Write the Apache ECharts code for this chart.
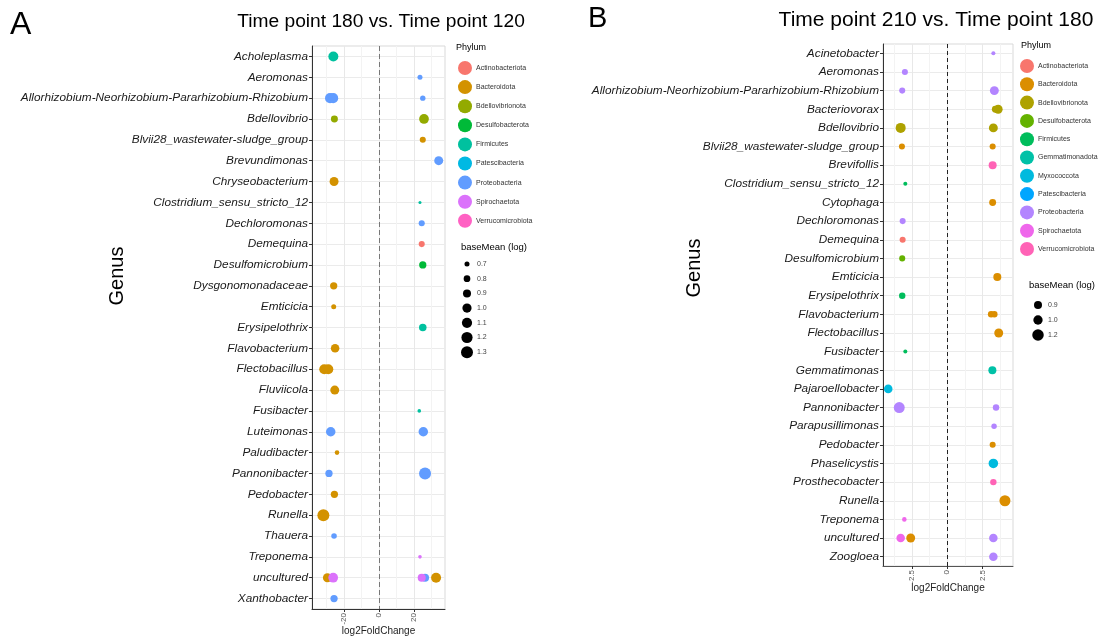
<!DOCTYPE html>
<html>
<head>
<meta charset="utf-8">
<script src="https://cdn.jsdelivr.net/npm/echarts@6/dist/echarts.min.js"></script>
<style>
  html, body { margin: 0; padding: 0; background: #fff; }
  #chart { width: 1110px; height: 637px; }
</style>
</head>
<body>
<div id="chart"></div>
<script>
// ---------- Panel A: Time point 180 vs. Time point 120 ----------
const genusA = [
  "Acholeplasma", "Aeromonas", "Allorhizobium-Neorhizobium-Pararhizobium-Rhizobium",
  "Bdellovibrio", "Blvii28_wastewater-sludge_group", "Brevundimonas", "Chryseobacterium",
  "Clostridium_sensu_stricto_12", "Dechloromonas", "Demequina", "Desulfomicrobium",
  "Dysgonomonadaceae", "Emticicia", "Erysipelothrix", "Flavobacterium", "Flectobacillus",
  "Fluviicola", "Fusibacter", "Luteimonas", "Paludibacter", "Pannonibacter", "Pedobacter",
  "Runella", "Thauera", "Treponema", "uncultured", "Xanthobacter"
];
const phylaA = [
  "Actinobacteriota", "Bacteroidota", "Bdellovibrionota", "Desulfobacterota", "Firmicutes",
  "Patescibacteria", "Proteobacteria", "Spirochaetota", "Verrucomicrobiota"
];
const colorsA = ["#F8766D", "#D39200", "#93AA00", "#00BA38", "#00C19F", "#00B9E3", "#619CFF", "#DB72FB", "#FF61C3"];

const ptGenusA = [
  "Acholeplasma", "Aeromonas",
  "Allorhizobium-Neorhizobium-Pararhizobium-Rhizobium", "Allorhizobium-Neorhizobium-Pararhizobium-Rhizobium", "Allorhizobium-Neorhizobium-Pararhizobium-Rhizobium",
  "Bdellovibrio", "Bdellovibrio", "Blvii28_wastewater-sludge_group", "Brevundimonas", "Chryseobacterium",
  "Clostridium_sensu_stricto_12", "Dechloromonas", "Demequina", "Desulfomicrobium", "Dysgonomonadaceae",
  "Emticicia", "Erysipelothrix", "Flavobacterium", "Flectobacillus", "Flectobacillus",
  "Fluviicola", "Fusibacter", "Luteimonas", "Luteimonas", "Paludibacter",
  "Pannonibacter", "Pannonibacter", "Pedobacter", "Runella", "Thauera",
  "Treponema", "uncultured", "uncultured", "uncultured", "uncultured", "uncultured", "Xanthobacter"
];
const ptPhylumA = [
  "Firmicutes", "Proteobacteria",
  "Proteobacteria", "Proteobacteria", "Proteobacteria",
  "Bdellovibrionota", "Bdellovibrionota", "Bacteroidota", "Proteobacteria", "Bacteroidota",
  "Firmicutes", "Proteobacteria", "Actinobacteriota", "Desulfobacterota", "Bacteroidota",
  "Bacteroidota", "Firmicutes", "Bacteroidota", "Bacteroidota", "Bacteroidota",
  "Bacteroidota", "Firmicutes", "Proteobacteria", "Proteobacteria", "Bacteroidota",
  "Proteobacteria", "Proteobacteria", "Bacteroidota", "Bacteroidota", "Proteobacteria",
  "Spirochaetota", "Bacteroidota", "Spirochaetota", "Spirochaetota", "Proteobacteria", "Bacteroidota", "Proteobacteria"
];
const ptLfcA = [
  -26.1, 23.4,
  -28.0, -26.2, 25.0,
  -25.5, 25.7, 25.0, 34.1, -25.7,
  23.4, 24.4, 24.4, 25.0, -25.9,
  -25.9, 25.0, -25.1, -31.3, -29.0,
  -25.3, 23.0, -27.6, 25.3, -24.0,
  -28.6, 26.3, -25.5, -31.8, -25.7,
  23.4, -29.5, -26.2, 24.4, 26.3, 32.6, -25.7
];
const ptBaseMeanA = [
  1.08, 0.70,
  1.08, 1.08, 0.72,
  0.82, 1.05, 0.76, 0.98, 0.98,
  0.62, 0.76, 0.76, 0.84, 0.84,
  0.70, 0.86, 0.94, 1.08, 1.08,
  0.98, 0.64, 1.03, 1.03, 0.68,
  0.84, 1.30, 0.84, 1.30, 0.73,
  0.64, 0.98, 1.05, 0.90, 0.90, 1.08, 0.84
];
const sizeBreaksA = [0.7, 0.8, 0.9, 1.0, 1.1, 1.2, 1.3];
const xTicksA = [-20, 0, 20];
const xMinorA = [-30, -10, 10, 30];

// ---------- Panel B: Time point 210 vs. Time point 180 ----------
const genusB = [
  "Acinetobacter", "Aeromonas", "Allorhizobium-Neorhizobium-Pararhizobium-Rhizobium",
  "Bacteriovorax", "Bdellovibrio", "Blvii28_wastewater-sludge_group", "Brevifollis",
  "Clostridium_sensu_stricto_12", "Cytophaga", "Dechloromonas", "Demequina",
  "Desulfomicrobium", "Emticicia", "Erysipelothrix", "Flavobacterium", "Flectobacillus",
  "Fusibacter", "Gemmatimonas", "Pajaroellobacter", "Pannonibacter", "Parapusillimonas",
  "Pedobacter", "Phaselicystis", "Prosthecobacter", "Runella", "Treponema", "uncultured", "Zoogloea"
];
const phylaB = [
  "Actinobacteriota", "Bacteroidota", "Bdellovibrionota", "Desulfobacterota", "Firmicutes",
  "Gemmatimonadota", "Myxococcota", "Patescibacteria", "Proteobacteria", "Spirochaetota", "Verrucomicrobiota"
];
const colorsB = ["#F8766D", "#DB8E00", "#AEA200", "#64B200", "#00BD5C", "#00C1A7", "#00BADE", "#00A6FF", "#B385FF", "#EF67EB", "#FF63B6"];

const ptGenusB = [
  "Acinetobacter", "Aeromonas",
  "Allorhizobium-Neorhizobium-Pararhizobium-Rhizobium", "Allorhizobium-Neorhizobium-Pararhizobium-Rhizobium",
  "Bacteriovorax", "Bacteriovorax", "Bdellovibrio", "Bdellovibrio",
  "Blvii28_wastewater-sludge_group", "Blvii28_wastewater-sludge_group", "Brevifollis",
  "Clostridium_sensu_stricto_12", "Cytophaga", "Dechloromonas", "Demequina", "Desulfomicrobium",
  "Emticicia", "Erysipelothrix", "Flavobacterium", "Flavobacterium", "Flectobacillus",
  "Fusibacter", "Gemmatimonas", "Pajaroellobacter", "Pannonibacter", "Pannonibacter",
  "Parapusillimonas", "Pedobacter", "Phaselicystis", "Prosthecobacter", "Runella",
  "Treponema", "uncultured", "uncultured", "uncultured", "Zoogloea"
];
const ptPhylumB = [
  "Proteobacteria", "Proteobacteria",
  "Proteobacteria", "Proteobacteria",
  "Bdellovibrionota", "Bdellovibrionota", "Bdellovibrionota", "Bdellovibrionota",
  "Bacteroidota", "Bacteroidota", "Verrucomicrobiota",
  "Firmicutes", "Bacteroidota", "Proteobacteria", "Actinobacteriota", "Desulfobacterota",
  "Bacteroidota", "Firmicutes", "Bacteroidota", "Bacteroidota", "Bacteroidota",
  "Firmicutes", "Gemmatimonadota", "Myxococcota", "Proteobacteria", "Proteobacteria",
  "Proteobacteria", "Bacteroidota", "Myxococcota", "Verrucomicrobiota", "Bacteroidota",
  "Spirochaetota", "Spirochaetota", "Bacteroidota", "Proteobacteria", "Proteobacteria"
];
const ptLfcB = [
  3.26, -3.00,
  -3.19, 3.33,
  3.40, 3.60, -3.30, 3.26,
  -3.21, 3.21, 3.21,
  -2.97, 3.21, -3.16, -3.16, -3.19,
  3.54, -3.19, 3.10, 3.33, 3.64,
  -2.97, 3.19, -4.18, -3.40, 3.45,
  3.31, 3.21, 3.26, 3.26, 4.08,
  -3.04, -3.30, -2.59, 3.26, 3.26
];
const ptBaseMeanB = [
  0.69, 0.78,
  0.78, 0.97,
  0.83, 0.97, 1.06, 0.97,
  0.78, 0.78, 0.90,
  0.69, 0.83, 0.78, 0.78, 0.78,
  0.90, 0.80, 0.80, 0.80, 0.97,
  0.69, 0.90, 0.94, 1.15, 0.80,
  0.75, 0.78, 1.02, 0.80, 1.15,
  0.71, 0.94, 0.97, 0.94, 0.94
];
const sizeBreaksB = [0.9, 1.0, 1.2];
const xTicksB = [-2.5, 0, 2.5];
const xMinorB = [-3.75, -1.25, 1.25, 3.75];

// Point diameter scales with area (baseMean on a log scale)
const sizeA = v => Math.sqrt(Math.max(6, -113.8 + 198.3 * v));
const sizeB = v => Math.sqrt(Math.max(6, -140.75 + 227.5 * v));

const FONT = "Liberation Sans, Arial, sans-serif";

function panelSeries(phyla, colors, g, lfc, ph, bm, sizeFn, axisIdx, zeroColor, zeroDash) {
  return phyla.map((p, k) => {
    const data = [];
    for (let i = 0; i < g.length; i++) {
      if (ph[i] === p) data.push([lfc[i], g[i], bm[i]]);
    }
    const s = {
      type: 'scatter',
      name: p,
      xAxisIndex: axisIdx * 2,
      yAxisIndex: axisIdx,
      data: data,
      symbol: 'circle',
      symbolSize: v => sizeFn(v[2]),
      itemStyle: { color: colors[k], opacity: 1 },
      emphasis: { disabled: true },
      silent: true,
      z: 5
    };
    if (k === 0) {
      s.markLine = {
        silent: true,
        symbol: ['none', 'none'],
        label: { show: false },
        lineStyle: { color: zeroColor, type: zeroDash, width: 1 },
        data: [{ xAxis: 0 }],
        z: 3
      };
    }
    return s;
  });
}

function yAxisFor(gi, cats, fontSize) {
  return {
    type: 'category', gridIndex: gi, data: cats, inverse: true, boundaryGap: true,
    axisLine: { show: true, onZero: false, lineStyle: { color: '#333', width: 1 } },
    axisTick: { show: true, alignWithLabel: true, length: 3, lineStyle: { color: '#333' } },
    axisLabel: { interval: 0, fontStyle: 'italic', fontSize: fontSize, color: '#1a1a1a', margin: 4, fontFamily: FONT },
    splitLine: { show: true, alignWithLabel: true, lineStyle: { color: '#ebebeb', width: 1 } }
  };
}

function xAxesFor(gi, min, max, ticks, minor, axisColor) {
  return [
    {
      type: 'value', gridIndex: gi, min: min, max: max, position: 'bottom',
      axisLine: { show: true, onZero: false, lineStyle: { color: axisColor, width: 1 } },
      axisTick: { show: true, customValues: ticks, length: 3, lineStyle: { color: '#333' } },
      axisLabel: { customValues: ticks, rotate: 90, fontSize: 8, color: '#555', margin: 4, fontFamily: FONT },
      splitLine: { show: true, lineStyle: { color: '#e8e8e8', width: 1 } },
      name: 'log2FoldChange', nameLocation: 'middle', nameGap: 17, nameMoveOverlap: false,
      nameTextStyle: { fontSize: 10, color: '#222', fontFamily: FONT }
    },
    {
      type: 'value', gridIndex: gi, min: min, max: max, position: 'bottom',
      axisLine: { show: false }, axisLabel: { show: false },
      axisTick: { show: false, customValues: minor },
      splitLine: { show: true, lineStyle: { color: '#f3f3f3', width: 1 } }
    }
  ];
}

function phylumLegend(phyla, colors, left, top, gap) {
  return {
    orient: 'vertical', left: left, top: top, itemWidth: 14, itemHeight: 14, itemGap: gap,
    icon: 'circle', selectedMode: false, padding: 0,
    data: phyla.map((p, i) => ({ name: p, itemStyle: { color: colors[i] } })),
    textStyle: { fontSize: 7, color: '#333', fontFamily: FONT, padding: [0, 0, 0, -1] }
  };
}

function txt(x, y, text, size, opts) {
  opts = opts || {};
  return {
    type: 'text', x: x, y: y, rotation: opts.rotation || 0, silent: true,
    style: {
      text: text, fontSize: size, fontFamily: FONT, fill: opts.fill || '#000',
      align: opts.align || 'left', verticalAlign: 'middle'
    }
  };
}

function sizeLegend(breaks, sizeFn, cx, tx, y0, step) {
  const out = [];
  breaks.forEach((b, i) => {
    const y = y0 + i * step;
    out.push({ type: 'circle', silent: true, shape: { cx: cx, cy: y, r: sizeFn(b) / 2 }, style: { fill: '#000' } });
    out.push(txt(tx, y, b.toFixed(1), 7, { fill: '#444' }));
  });
  return out;
}

const graphics = [
  txt(10, 25, 'A', 32),
  txt(381, 22, 'Time point 180 vs. Time point 120', 19.2, { align: 'center' }),
  txt(588, 19, 'B', 29),
  txt(936, 20, 'Time point 210 vs. Time point 180', 21, { align: 'center' }),
  txt(117, 276, 'Genus', 20, { align: 'center', rotation: Math.PI / 2 }),
  txt(694, 268, 'Genus', 20, { align: 'center', rotation: Math.PI / 2 }),
  txt(456, 48, 'Phylum', 9),
  txt(461, 247, 'baseMean (log)', 9.5),
  txt(1021, 46, 'Phylum', 9),
  txt(1029, 285, 'baseMean (log)', 9.5)
].concat(
  sizeLegend(sizeBreaksA, sizeA, 467, 477, 264, 14.7),
  sizeLegend(sizeBreaksB, sizeB, 1038, 1048, 305, 15)
);

const option = {
  animation: false,
  backgroundColor: '#fff',
  textStyle: { fontFamily: FONT },
  grid: [
    { left: 312, top: 46, width: 133, height: 563, show: true, borderColor: '#d9d9d9', borderWidth: 1,
      containLabel: false, outerBoundsMode: 'none' },
    { left: 883, top: 44, width: 130, height: 522, show: true, borderColor: '#d9d9d9', borderWidth: 1,
      containLabel: false, outerBoundsMode: 'none' }
  ],
  xAxis: xAxesFor(0, -38.3, 37.7, xTicksA, xMinorA, '#333').concat(
         xAxesFor(1, -4.55, 4.65, xTicksB, xMinorB, '#555')),
  yAxis: [yAxisFor(0, genusA, 11.8), yAxisFor(1, genusB, 11.8)],
  legend: [
    phylumLegend(phylaA, colorsA, 458, 61, 5.1),
    phylumLegend(phylaB, colorsB, 1020, 59, 4.3)
  ],
  series: panelSeries(phylaA, colorsA, ptGenusA, ptLfcA, ptPhylumA, ptBaseMeanA, sizeA, 0, '#777', [5, 3])
    .concat(panelSeries(phylaB, colorsB, ptGenusB, ptLfcB, ptPhylumB, ptBaseMeanB, sizeB, 1, '#222', [4, 3])),
  graphic: graphics
};

const chart = echarts.init(document.getElementById('chart'), null, { renderer: 'canvas' });
chart.setOption(option);
</script>
</body>
</html>
